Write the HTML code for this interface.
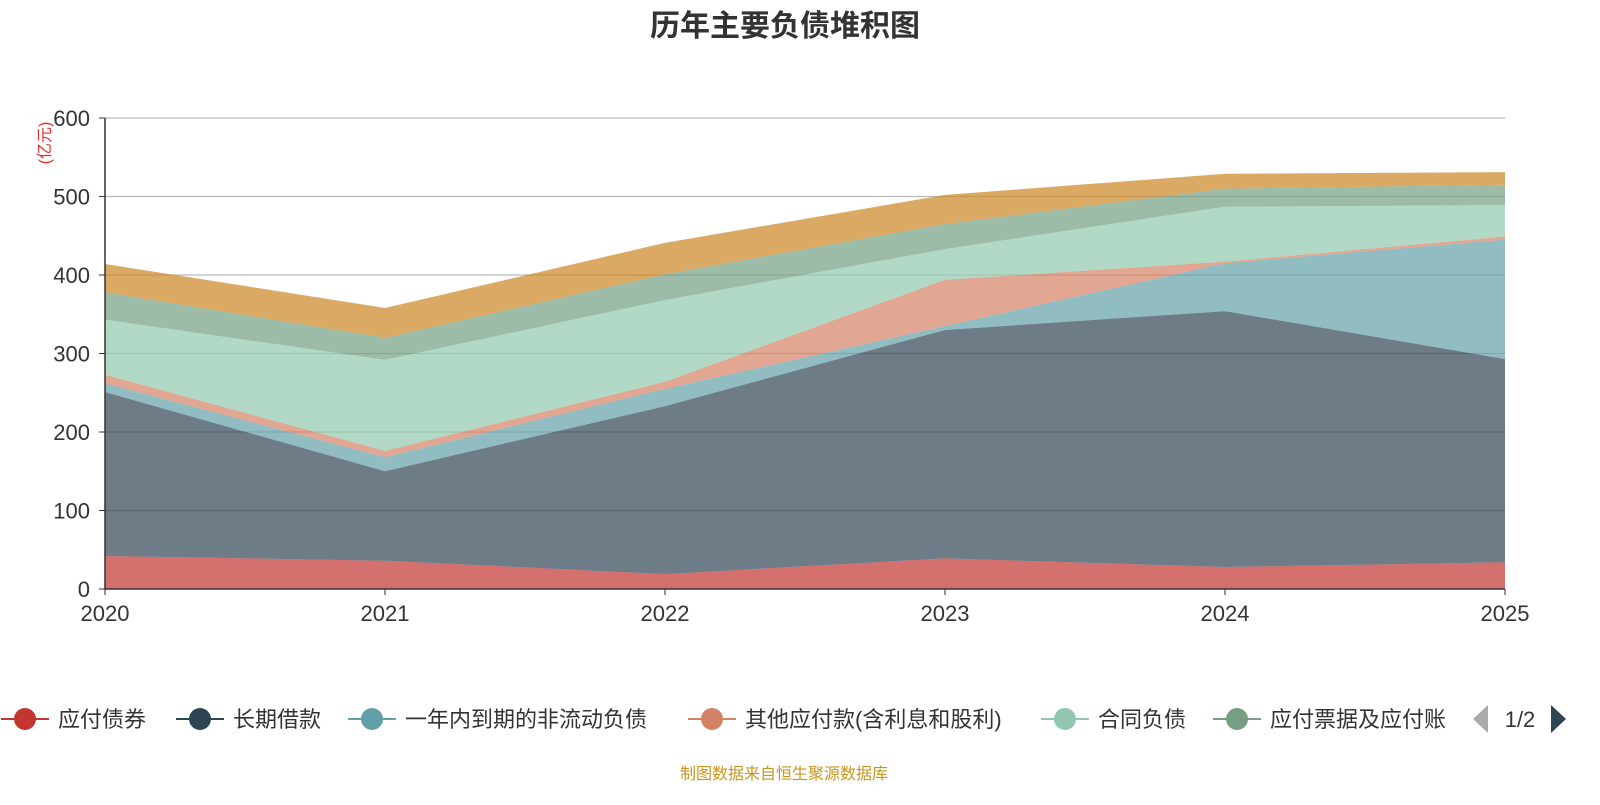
<!DOCTYPE html>
<html><head><meta charset="utf-8"><style>
body{margin:0;background:#fff;font-family:"Liberation Sans","Noto Sans CJK SC",sans-serif}
</style></head><body>
<svg width="1600" height="800" xmlns="http://www.w3.org/2000/svg" id="chart" style="font-family:'Liberation Sans','Noto Sans CJK SC',sans-serif">
<text x="785" y="36" text-anchor="middle" font-size="30" font-weight="bold" fill="#333">历年主要负债堆积图</text>
<text transform="translate(50,143) rotate(-90)" text-anchor="middle" font-size="16" fill="#e03030">(亿元)</text>
<g id="grid"></g><g id="areas"></g><g id="axes"></g><g id="legend"></g>
<text x="784" y="779" text-anchor="middle" font-size="16" fill="#c8961e">制图数据来自恒生聚源数据库</text>
</svg>
<script>
const years=["2020","2021","2022","2023","2024","2025"];
const yTicks=[0,100,200,300,400,500,600];
const seriesNames=["应付债券","长期借款","一年内到期的非流动负债","其他应付款(含利息和股利)","合同负债","应付票据及应付账款","其他"];
const s1=[42,36,19,39,28,34];
const s2=[209,114,214,291,326,259];
const s3=[11,18,22,5,61,152];
const s4=[11,8,9,59,2,4];
const s5=[70,116,104,39,70,40];
const s6=[35,28,33,32,23,26];
const s7=[36,38,40,37,19,16];
const colors=["#c23531","#2f4554","#61a0a8","#d48265","#91c7ae","#749f83","#ca8622"];
const NS="http://www.w3.org/2000/svg";
const x0=105,x1=1505,y0=589,y1=118;
const xs=i=>x0+(x1-x0)*i/(years.length-1);
const ys=v=>y0-(y0-y1)*v/600;
function mk(t,a,p){const e=document.createElementNS(NS,t);for(const k in a)e.setAttribute(k,a[k]);p.appendChild(e);return e;}
const grid=document.getElementById('grid'),axes=document.getElementById('axes'),areas=document.getElementById('areas'),leg=document.getElementById('legend');
yTicks.forEach(v=>{
 if(v>0){const l=mk('line',{x1:x0,x2:x1,y1:ys(v),y2:ys(v),stroke:'#bbb','stroke-width':1.2},grid);
 
 }
 const t=mk('text',{x:x0-15,y:ys(v)+8,'text-anchor':'end','font-size':22,fill:'#333'},axes);t.textContent=v;
 
 
 mk('line',{x1:x0-6,x2:x0,y1:ys(v),y2:ys(v),stroke:'#333'},axes);
});
years.forEach((y,i)=>{
 const t=mk('text',{x:xs(i),y:y0+32,'text-anchor':'middle','font-size':22,fill:'#333'},axes);t.textContent=y;
 
 
 mk('line',{x1:xs(i),x2:xs(i),y1:y0,y2:y0+6,stroke:'#333'},axes);
});
mk('line',{x1:x0,x2:x0,y1:y1,y2:y0,stroke:'#333','stroke-width':1.5},axes);
mk('line',{x1:x0,x2:x1,y1:y0,y2:y0,stroke:'#333','stroke-width':1.5},axes);
const all=[s1,s2,s3,s4,s5,s6,s7];
let base=years.map(()=>0);
all.forEach((s,k)=>{
 const top=base.map((b,i)=>b+s[i]);
 let d='M'+top.map((v,i)=>xs(i)+','+ys(v)).join(' L');
 for(let i=years.length-1;i>=0;i--)d+=' L'+xs(i)+','+ys(base[i]);
 d+='Z';
 const p=mk('path',{d:d,fill:colors[k],'fill-opacity':0.7},areas);
 
 
 base=top;
});
const lx=[25,200,372,712,1065,1237];
const ln=seriesNames.slice(0,5).concat(["应付票据及应付账"]);
ln.forEach((n,k)=>{
 const g=mk('g',{},leg);
 
 
 mk('line',{x1:lx[k]-24,x2:lx[k]+24,y1:719,y2:719,stroke:colors[k],'stroke-width':2},g);
 mk('circle',{cx:lx[k],cy:719,r:11,fill:colors[k]},g);
 const t=mk('text',{x:lx[k]+33,y:727,'font-size':22,fill:'#333'},g);t.textContent=n;
});
const pg=mk('polygon',{points:'1473,719 1488,705 1488,733',fill:'#aaa'},leg);


const pt=mk('text',{x:1520,y:727,'font-size':22,fill:'#333','text-anchor':'middle'},leg);pt.textContent='1/2';


const ng=mk('polygon',{points:'1566,719 1551,705 1551,733',fill:'#2f4554'},leg);


</script>
</body></html>
